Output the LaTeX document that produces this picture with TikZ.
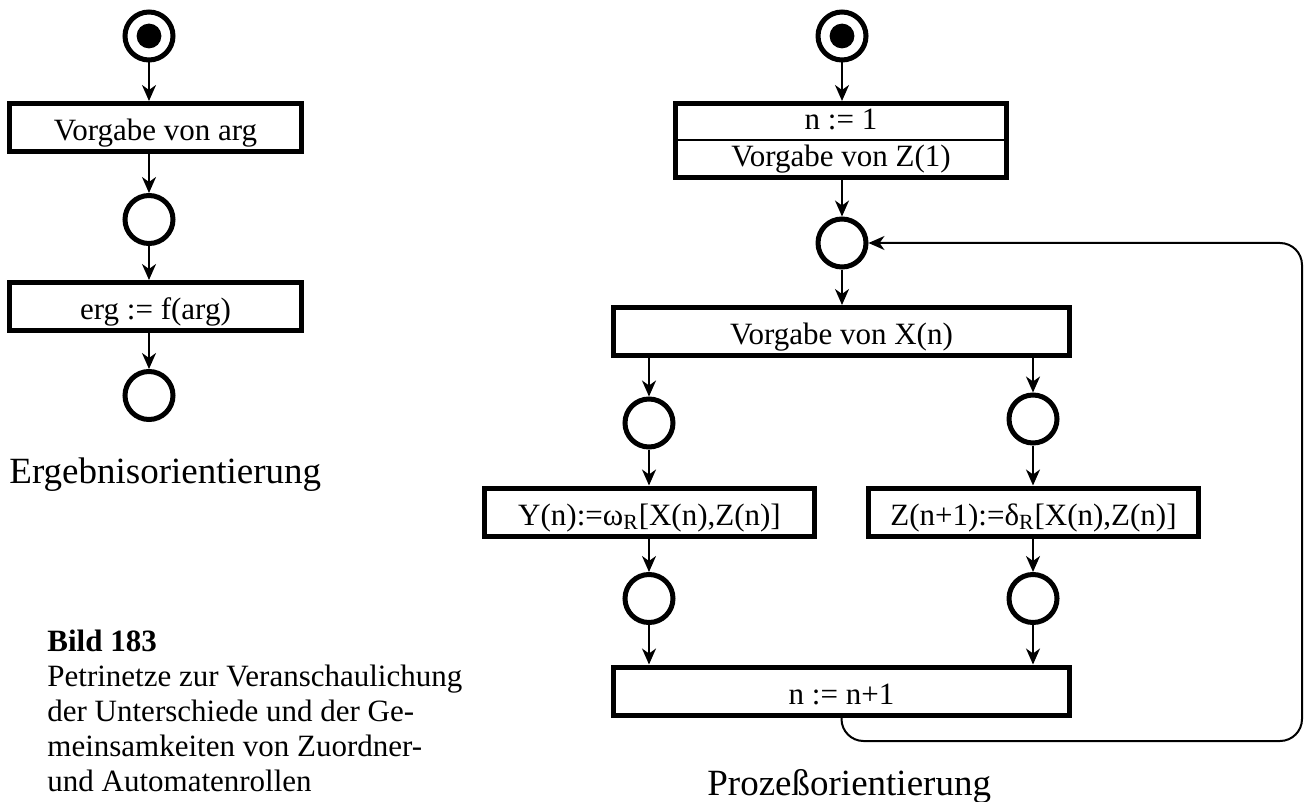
\documentclass[tikz,border=0pt]{standalone}
\usepackage{fontspec}
\setmainfont{Liberation Serif}
\usetikzlibrary{arrows.meta}

\newcommand\kastenschrift{\fontsize{15.5}{17.4}\selectfont}
\newcommand\titelschrift{\fontsize{18.5}{21}\selectfont}

\begin{document}
\begin{tikzpicture}[x=0.5pt, y=-0.5pt,
    >={Stealth[length=8pt,width=7pt,inset=2.5pt]},
    trans/.style={rectangle, draw, line width=2.5pt, minimum height=24pt, inner sep=0pt,
        font=\kastenschrift, text height=13pt, text depth=0pt},
    stelle/.style={circle, draw, line width=2.5pt, minimum size=24pt, inner sep=0pt},
    startstelle/.style={stelle, path picture={\fill (path picture bounding box.center) circle (6.2pt);}},
    zeile/.style={anchor=base, inner sep=0pt, font=\kastenschrift},
    titel/.style={anchor=base west, inner sep=0pt, font=\titelschrift},
    conn/.style={->, line width=1pt}]

    \useasboundingbox (0,0) rectangle (1305,802);

    \node(s1) [startstelle] at (149,36) {};
    \node(b1) [trans, minimum width=146pt] at (155.5,127.5) {Vorgabe von arg};
    \node(p1) [stelle] at (149,219.5) {};
    \node(b2) [trans, minimum width=146pt] at (155.5,306.5) {erg := f(arg)};
    \node(p2) [stelle] at (149,395.5) {};
    \node(t1) [titel] at (9,483) {Ergebnisorientierung};

    \draw[conn] (s1) -- (s1 |- b1.north);
    \draw[conn] (s1 |- b1.south) -- (p1);
    \draw[conn] (p1) -- (p1 |- b2.north);
    \draw[conn] (p1 |- b2.south) -- (p2);

    \node(bild) [anchor=north west, align=left, inner sep=0pt, font=\kastenschrift] at (47,630)
        {\textbf{Bild 183}\\Petrinetze zur Veranschaulichung\\der Unterschiede und der Ge-\\meinsamkeiten von Zuordner-\\und Automatenrollen};

    \node(s2) [startstelle] at (842,36) {};
    \node(init) [trans, minimum width=165.5pt, minimum height=37pt] at (841,140.5) {};
    \draw[line width=1pt] (init.west) -- (init.east);
    \node(n1) [zeile] at (841,130) {n := 1};
    \node(z1) [zeile] at (841,167) {Vorgabe von Z(1)};
    \node(p3) [stelle] at (842,243) {};
    \node(bx) [trans, minimum width=228pt] at (841.5,331.5) {Vorgabe von X(n)};
    \node(pl) [stelle] at (649,423) {};
    \node(pr) [stelle] at (1033,419) {};
    \node(by) [trans, minimum width=165pt] at (649.5,512) {Y(n):=ω\textsubscript{R}[X(n),Z(n)]};
    \node(bz) [trans, minimum width=165pt] at (1033.5,512) {Z(n+1):=δ\textsubscript{R}[X(n),Z(n)]};
    \node(pl2) [stelle] at (649,598.5) {};
    \node(pr2) [stelle] at (1033,598.5) {};
    \node(bn) [trans, minimum width=228pt] at (841.5,691) {n := n+1};
    \coordinate(eck) at (1302,741);
    \node(t2) [titel] at (707,795) {Prozeßorientierung};

    \draw[conn] (s2) -- (s2 |- init.north);
    \draw[conn] (p3 |- init.south) -- (p3);
    \draw[conn] (p3) -- (p3 |- bx.north);
    \draw[conn] (pl |- bx.south) -- (pl);
    \draw[conn] (pr |- bx.south) -- (pr);
    \draw[conn] (pl) -- (pl |- by.north);
    \draw[conn] (pr) -- (pr |- bz.north);
    \draw[conn] (pl |- by.south) -- (pl2);
    \draw[conn] (pr |- bz.south) -- (pr2);
    \draw[conn] (pl2) -- (pl2 |- bn.north);
    \draw[conn] (pr2) -- (pr2 |- bn.north);
    \draw[conn, rounded corners=11pt] (bn.south) |- (eck) |- (p3);
\end{tikzpicture}
\end{document}
